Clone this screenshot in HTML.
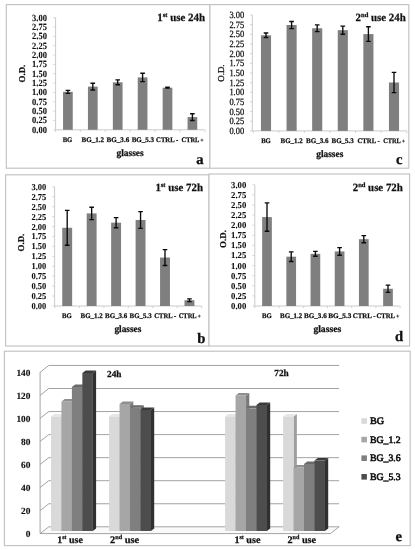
<!DOCTYPE html>
<html><head><meta charset="utf-8"><title>Figure</title>
<style>
html,body{margin:0;padding:0;background:#fff;}
body{width:415px;height:550px;overflow:hidden;font-family:"Liberation Serif",serif;}
svg{display:block;font-family:"Liberation Serif",serif;filter:grayscale(1);}
</style></head><body>
<svg text-rendering="geometricPrecision" width="415" height="550" viewBox="0 0 415 550">
<defs><filter id="soft" x="0" y="0" width="415" height="550" filterUnits="userSpaceOnUse" color-interpolation-filters="sRGB"><feConvolveMatrix order="3" kernelMatrix="0.03 0.1 0.03 0.1 0.48 0.1 0.03 0.1 0.03" divisor="1" edgeMode="duplicate" preserveAlpha="true"/></filter></defs>
<rect width="415" height="550" fill="#fff"/>
<rect x="6.3" y="4.6" width="203.6" height="163.6" fill="#fff" stroke="#c2c2c2" stroke-width="1.15"/>
<path d="M55.6 17.6 V129.8 H204.2" fill="none" stroke="#cacaca" stroke-width="1"/>
<path d="M53.4 129.80 H55.6" stroke="#cecece" stroke-width="0.9"/>
<path d="M53.4 120.45 H55.6" stroke="#cecece" stroke-width="0.9"/>
<path d="M53.4 111.10 H55.6" stroke="#cecece" stroke-width="0.9"/>
<path d="M53.4 101.75 H55.6" stroke="#cecece" stroke-width="0.9"/>
<path d="M53.4 92.40 H55.6" stroke="#cecece" stroke-width="0.9"/>
<path d="M53.4 83.05 H55.6" stroke="#cecece" stroke-width="0.9"/>
<path d="M53.4 73.70 H55.6" stroke="#cecece" stroke-width="0.9"/>
<path d="M53.4 64.35 H55.6" stroke="#cecece" stroke-width="0.9"/>
<path d="M53.4 55.00 H55.6" stroke="#cecece" stroke-width="0.9"/>
<path d="M53.4 45.65 H55.6" stroke="#cecece" stroke-width="0.9"/>
<path d="M53.4 36.30 H55.6" stroke="#cecece" stroke-width="0.9"/>
<path d="M53.4 26.95 H55.6" stroke="#cecece" stroke-width="0.9"/>
<path d="M53.4 17.60 H55.6" stroke="#cecece" stroke-width="0.9"/>
<path d="M55.45 129.8 v2.2" stroke="#cecece" stroke-width="0.9"/>
<path d="M80.35 129.8 v2.2" stroke="#cecece" stroke-width="0.9"/>
<path d="M105.25 129.8 v2.2" stroke="#cecece" stroke-width="0.9"/>
<path d="M130.15 129.8 v2.2" stroke="#cecece" stroke-width="0.9"/>
<path d="M155.05 129.8 v2.2" stroke="#cecece" stroke-width="0.9"/>
<path d="M179.95 129.8 v2.2" stroke="#cecece" stroke-width="0.9"/>
<path d="M204.85 129.8 v2.2" stroke="#cecece" stroke-width="0.9"/>
<rect x="63.05" y="91.80" width="9.7" height="38.00" fill="#7f7f7f"/>
<path d="M67.90 90.31 V93.30 M65.60 90.31 h4.6 M65.60 93.30 h4.6" stroke="#0a0a0a" stroke-width="1.35" fill="none"/>
<rect x="87.95" y="86.60" width="9.7" height="43.20" fill="#7f7f7f"/>
<path d="M92.80 83.24 V89.97 M90.50 83.24 h4.6 M90.50 89.97 h4.6" stroke="#0a0a0a" stroke-width="1.35" fill="none"/>
<rect x="112.85" y="82.30" width="9.7" height="47.50" fill="#7f7f7f"/>
<path d="M117.70 79.87 V84.73 M115.40 79.87 h4.6 M115.40 84.73 h4.6" stroke="#0a0a0a" stroke-width="1.35" fill="none"/>
<rect x="137.75" y="77.44" width="9.7" height="52.36" fill="#7f7f7f"/>
<path d="M142.60 73.25 V81.63 M140.30 73.25 h4.6 M140.30 81.63 h4.6" stroke="#0a0a0a" stroke-width="1.35" fill="none"/>
<rect x="162.65" y="87.73" width="9.7" height="42.08" fill="#7f7f7f"/>
<path d="M167.50 87.28 V88.17 M165.20 87.28 h4.6 M165.20 88.17 h4.6" stroke="#0a0a0a" stroke-width="1.35" fill="none"/>
<rect x="187.55" y="117.08" width="9.7" height="12.72" fill="#7f7f7f"/>
<path d="M192.40 113.72 V120.45 M190.10 113.72 h4.6 M190.10 120.45 h4.6" stroke="#0a0a0a" stroke-width="1.35" fill="none"/>
<rect x="209.9" y="4.6" width="198.9" height="163.6" fill="#fff" stroke="#c2c2c2" stroke-width="1.15"/>
<path d="M252.3 15.0 V130.9 H406.8" fill="none" stroke="#cacaca" stroke-width="1"/>
<path d="M250.10000000000002 130.90 H252.3" stroke="#cecece" stroke-width="0.9"/>
<path d="M250.10000000000002 121.24 H252.3" stroke="#cecece" stroke-width="0.9"/>
<path d="M250.10000000000002 111.58 H252.3" stroke="#cecece" stroke-width="0.9"/>
<path d="M250.10000000000002 101.93 H252.3" stroke="#cecece" stroke-width="0.9"/>
<path d="M250.10000000000002 92.27 H252.3" stroke="#cecece" stroke-width="0.9"/>
<path d="M250.10000000000002 82.61 H252.3" stroke="#cecece" stroke-width="0.9"/>
<path d="M250.10000000000002 72.95 H252.3" stroke="#cecece" stroke-width="0.9"/>
<path d="M250.10000000000002 63.29 H252.3" stroke="#cecece" stroke-width="0.9"/>
<path d="M250.10000000000002 53.63 H252.3" stroke="#cecece" stroke-width="0.9"/>
<path d="M250.10000000000002 43.98 H252.3" stroke="#cecece" stroke-width="0.9"/>
<path d="M250.10000000000002 34.32 H252.3" stroke="#cecece" stroke-width="0.9"/>
<path d="M250.10000000000002 24.66 H252.3" stroke="#cecece" stroke-width="0.9"/>
<path d="M250.10000000000002 15.00 H252.3" stroke="#cecece" stroke-width="0.9"/>
<path d="M253.20 130.9 v2.2" stroke="#cecece" stroke-width="0.9"/>
<path d="M278.80 130.9 v2.2" stroke="#cecece" stroke-width="0.9"/>
<path d="M304.40 130.9 v2.2" stroke="#cecece" stroke-width="0.9"/>
<path d="M330.00 130.9 v2.2" stroke="#cecece" stroke-width="0.9"/>
<path d="M355.60 130.9 v2.2" stroke="#cecece" stroke-width="0.9"/>
<path d="M381.20 130.9 v2.2" stroke="#cecece" stroke-width="0.9"/>
<path d="M406.80 130.9 v2.2" stroke="#cecece" stroke-width="0.9"/>
<rect x="260.95" y="35.28" width="10.1" height="95.62" fill="#7f7f7f"/>
<path d="M266.00 33.04 V37.52 M263.70 33.04 h4.6 M263.70 37.52 h4.6" stroke="#0a0a0a" stroke-width="1.35" fill="none"/>
<rect x="286.55" y="25.01" width="10.1" height="105.89" fill="#7f7f7f"/>
<path d="M291.60 21.45 V28.56 M289.30 21.45 h4.6 M289.30 28.56 h4.6" stroke="#0a0a0a" stroke-width="1.35" fill="none"/>
<rect x="312.15" y="28.29" width="10.1" height="102.61" fill="#7f7f7f"/>
<path d="M317.20 24.89 V31.69 M314.90 24.89 h4.6 M314.90 31.69 h4.6" stroke="#0a0a0a" stroke-width="1.35" fill="none"/>
<rect x="337.75" y="30.18" width="10.1" height="100.72" fill="#7f7f7f"/>
<path d="M342.80 26.13 V34.24 M340.50 26.13 h4.6 M340.50 34.24 h4.6" stroke="#0a0a0a" stroke-width="1.35" fill="none"/>
<rect x="363.35" y="34.08" width="10.1" height="96.82" fill="#7f7f7f"/>
<path d="M368.40 26.74 V41.43 M366.10 26.74 h4.6 M366.10 41.43 h4.6" stroke="#0a0a0a" stroke-width="1.35" fill="none"/>
<rect x="388.95" y="82.49" width="10.1" height="48.41" fill="#7f7f7f"/>
<path d="M394.00 72.33 V92.65 M391.70 72.33 h4.6 M391.70 92.65 h4.6" stroke="#0a0a0a" stroke-width="1.35" fill="none"/>
<rect x="5.6" y="174.8" width="203.4" height="171.2" fill="#fff" stroke="#c2c2c2" stroke-width="1.15"/>
<path d="M54.6 186.8 V306.0 H201.6" fill="none" stroke="#cacaca" stroke-width="1"/>
<path d="M52.4 306.00 H54.6" stroke="#cecece" stroke-width="0.9"/>
<path d="M52.4 296.07 H54.6" stroke="#cecece" stroke-width="0.9"/>
<path d="M52.4 286.13 H54.6" stroke="#cecece" stroke-width="0.9"/>
<path d="M52.4 276.20 H54.6" stroke="#cecece" stroke-width="0.9"/>
<path d="M52.4 266.27 H54.6" stroke="#cecece" stroke-width="0.9"/>
<path d="M52.4 256.33 H54.6" stroke="#cecece" stroke-width="0.9"/>
<path d="M52.4 246.40 H54.6" stroke="#cecece" stroke-width="0.9"/>
<path d="M52.4 236.47 H54.6" stroke="#cecece" stroke-width="0.9"/>
<path d="M52.4 226.53 H54.6" stroke="#cecece" stroke-width="0.9"/>
<path d="M52.4 216.60 H54.6" stroke="#cecece" stroke-width="0.9"/>
<path d="M52.4 206.67 H54.6" stroke="#cecece" stroke-width="0.9"/>
<path d="M52.4 196.73 H54.6" stroke="#cecece" stroke-width="0.9"/>
<path d="M52.4 186.80 H54.6" stroke="#cecece" stroke-width="0.9"/>
<path d="M54.98 306.0 v2.2" stroke="#cecece" stroke-width="0.9"/>
<path d="M79.42 306.0 v2.2" stroke="#cecece" stroke-width="0.9"/>
<path d="M103.88 306.0 v2.2" stroke="#cecece" stroke-width="0.9"/>
<path d="M128.32 306.0 v2.2" stroke="#cecece" stroke-width="0.9"/>
<path d="M152.78 306.0 v2.2" stroke="#cecece" stroke-width="0.9"/>
<path d="M177.22 306.0 v2.2" stroke="#cecece" stroke-width="0.9"/>
<path d="M201.67 306.0 v2.2" stroke="#cecece" stroke-width="0.9"/>
<rect x="62.25" y="227.80" width="9.9" height="78.20" fill="#7f7f7f"/>
<path d="M67.20 210.32 V245.29 M64.90 210.32 h4.6 M64.90 245.29 h4.6" stroke="#0a0a0a" stroke-width="1.35" fill="none"/>
<rect x="86.70" y="213.42" width="9.9" height="92.58" fill="#7f7f7f"/>
<path d="M91.65 207.26 V219.58 M89.35 207.26 h4.6 M89.35 219.58 h4.6" stroke="#0a0a0a" stroke-width="1.35" fill="none"/>
<rect x="111.15" y="222.68" width="9.9" height="83.32" fill="#7f7f7f"/>
<path d="M116.10 217.63 V227.73 M113.80 217.63 h4.6 M113.80 227.73 h4.6" stroke="#0a0a0a" stroke-width="1.35" fill="none"/>
<rect x="135.60" y="219.98" width="9.9" height="86.02" fill="#7f7f7f"/>
<path d="M140.55 211.63 V228.32 M138.25 211.63 h4.6 M138.25 228.32 h4.6" stroke="#0a0a0a" stroke-width="1.35" fill="none"/>
<rect x="160.05" y="257.53" width="9.9" height="48.47" fill="#7f7f7f"/>
<path d="M165.00 249.58 V265.47 M162.70 249.58 h4.6 M162.70 265.47 h4.6" stroke="#0a0a0a" stroke-width="1.35" fill="none"/>
<rect x="184.50" y="300.20" width="9.9" height="5.80" fill="#7f7f7f"/>
<path d="M189.45 298.81 V301.59 M187.15 298.81 h4.6 M187.15 301.59 h4.6" stroke="#0a0a0a" stroke-width="1.35" fill="none"/>
<rect x="209.0" y="174.0" width="200.60000000000002" height="172.0" fill="#fff" stroke="#c2c2c2" stroke-width="1.15"/>
<path d="M254.8 184.75 V306.0 H399.6" fill="none" stroke="#cacaca" stroke-width="1"/>
<path d="M252.60000000000002 306.00 H254.8" stroke="#cecece" stroke-width="0.9"/>
<path d="M252.60000000000002 295.90 H254.8" stroke="#cecece" stroke-width="0.9"/>
<path d="M252.60000000000002 285.79 H254.8" stroke="#cecece" stroke-width="0.9"/>
<path d="M252.60000000000002 275.69 H254.8" stroke="#cecece" stroke-width="0.9"/>
<path d="M252.60000000000002 265.58 H254.8" stroke="#cecece" stroke-width="0.9"/>
<path d="M252.60000000000002 255.48 H254.8" stroke="#cecece" stroke-width="0.9"/>
<path d="M252.60000000000002 245.38 H254.8" stroke="#cecece" stroke-width="0.9"/>
<path d="M252.60000000000002 235.27 H254.8" stroke="#cecece" stroke-width="0.9"/>
<path d="M252.60000000000002 225.17 H254.8" stroke="#cecece" stroke-width="0.9"/>
<path d="M252.60000000000002 215.06 H254.8" stroke="#cecece" stroke-width="0.9"/>
<path d="M252.60000000000002 204.96 H254.8" stroke="#cecece" stroke-width="0.9"/>
<path d="M252.60000000000002 194.85 H254.8" stroke="#cecece" stroke-width="0.9"/>
<path d="M252.60000000000002 184.75 H254.8" stroke="#cecece" stroke-width="0.9"/>
<path d="M254.90 306.0 v2.2" stroke="#cecece" stroke-width="0.9"/>
<path d="M279.10 306.0 v2.2" stroke="#cecece" stroke-width="0.9"/>
<path d="M303.30 306.0 v2.2" stroke="#cecece" stroke-width="0.9"/>
<path d="M327.50 306.0 v2.2" stroke="#cecece" stroke-width="0.9"/>
<path d="M351.70 306.0 v2.2" stroke="#cecece" stroke-width="0.9"/>
<path d="M375.90 306.0 v2.2" stroke="#cecece" stroke-width="0.9"/>
<path d="M400.10 306.0 v2.2" stroke="#cecece" stroke-width="0.9"/>
<rect x="262.15" y="217.08" width="9.7" height="88.92" fill="#7f7f7f"/>
<path d="M267.00 202.94 V231.23 M264.70 202.94 h4.6 M264.70 231.23 h4.6" stroke="#0a0a0a" stroke-width="1.35" fill="none"/>
<rect x="286.35" y="256.69" width="9.7" height="49.31" fill="#7f7f7f"/>
<path d="M291.20 251.84 V261.54 M288.90 251.84 h4.6 M288.90 261.54 h4.6" stroke="#0a0a0a" stroke-width="1.35" fill="none"/>
<rect x="310.55" y="253.86" width="9.7" height="52.14" fill="#7f7f7f"/>
<path d="M315.40 251.44 V256.29 M313.10 251.44 h4.6 M313.10 256.29 h4.6" stroke="#0a0a0a" stroke-width="1.35" fill="none"/>
<rect x="334.75" y="251.44" width="9.7" height="54.56" fill="#7f7f7f"/>
<path d="M339.60 247.60 V255.28 M337.30 247.60 h4.6 M337.30 255.28 h4.6" stroke="#0a0a0a" stroke-width="1.35" fill="none"/>
<rect x="358.95" y="239.19" width="9.7" height="66.81" fill="#7f7f7f"/>
<path d="M363.80 235.68 V242.71 M361.50 235.68 h4.6 M361.50 242.71 h4.6" stroke="#0a0a0a" stroke-width="1.35" fill="none"/>
<rect x="383.15" y="288.78" width="9.7" height="17.22" fill="#7f7f7f"/>
<path d="M388.00 285.14 V292.42 M385.70 285.14 h4.6 M385.70 292.42 h4.6" stroke="#0a0a0a" stroke-width="1.35" fill="none"/>
<rect x="4.4" y="351.2" width="405.8" height="194.4" fill="#fff" stroke="#c2c2c2" stroke-width="1.15"/>
<path d="M40.1 533.6 L48.8 526.8000000000001 H339.1 L330.40000000000003 533.6 Z" fill="#fafafa" stroke="#989898" stroke-width="0.9"/>
<path d="M40.1 510.55 L48.8 503.75 H339.1" fill="none" stroke="#989898" stroke-width="0.9"/>
<path d="M40.1 487.50 L48.8 480.70 H339.1" fill="none" stroke="#989898" stroke-width="0.9"/>
<path d="M40.1 464.45 L48.8 457.65 H339.1" fill="none" stroke="#989898" stroke-width="0.9"/>
<path d="M40.1 441.40 L48.8 434.60 H339.1" fill="none" stroke="#989898" stroke-width="0.9"/>
<path d="M40.1 418.35 L48.8 411.55 H339.1" fill="none" stroke="#989898" stroke-width="0.9"/>
<path d="M40.1 395.30 L48.8 388.50 H339.1" fill="none" stroke="#989898" stroke-width="0.9"/>
<path d="M40.1 372.25 L48.8 365.45 H339.1" fill="none" stroke="#989898" stroke-width="0.9"/>
<path d="M40.1 533.6 V372.25" stroke="#989898" stroke-width="0.9"/>
<path d="M61.45 531.0 L64.75 528.5 V414.00 L61.45 416.50 Z" fill="#9e9e9e"/>
<path d="M51.00 416.50 L54.30 414.00 H64.75 L61.45 416.50 Z" fill="#e6e6e6"/>
<rect x="51.00" y="416.50" width="10.549999999999999" height="114.50" fill="#d9d9d9"/>
<path d="M71.90 531.0 L75.20 528.5 V398.89 L71.90 401.39 Z" fill="#7a7a7a"/>
<path d="M61.45 401.39 L64.75 398.89 H75.20 L71.90 401.39 Z" fill="#8e8e8e"/>
<rect x="61.45" y="401.39" width="10.549999999999999" height="129.61" fill="#a6a6a6"/>
<path d="M82.35 531.0 L85.65 528.5 V384.46 L82.35 386.96 Z" fill="#5a5a5a"/>
<path d="M71.90 386.96 L75.20 384.46 H85.65 L82.35 386.96 Z" fill="#6a6a6a"/>
<rect x="71.90" y="386.96" width="10.549999999999999" height="144.04" fill="#7f7f7f"/>
<path d="M92.80 531.0 L96.10 528.5 V370.49 L92.80 372.99 Z" fill="#303030"/>
<path d="M82.35 372.99 L85.65 370.49 H96.10 L92.80 372.99 Z" fill="#3a3a3a"/>
<rect x="82.35" y="372.99" width="10.549999999999999" height="158.01" fill="#4d4d4d"/>
<path d="M119.55 531.0 L122.85 528.5 V414.00 L119.55 416.50 Z" fill="#9e9e9e"/>
<path d="M109.10 416.50 L112.40 414.00 H122.85 L119.55 416.50 Z" fill="#e6e6e6"/>
<rect x="109.10" y="416.50" width="10.549999999999999" height="114.50" fill="#d9d9d9"/>
<path d="M130.00 531.0 L133.30 528.5 V401.40 L130.00 403.90 Z" fill="#7a7a7a"/>
<path d="M119.55 403.90 L122.85 401.40 H133.30 L130.00 403.90 Z" fill="#8e8e8e"/>
<rect x="119.55" y="403.90" width="10.549999999999999" height="127.10" fill="#a6a6a6"/>
<path d="M140.45 531.0 L143.75 528.5 V405.18 L140.45 407.68 Z" fill="#5a5a5a"/>
<path d="M130.00 407.68 L133.30 405.18 H143.75 L140.45 407.68 Z" fill="#6a6a6a"/>
<rect x="130.00" y="407.68" width="10.549999999999999" height="123.32" fill="#7f7f7f"/>
<path d="M150.90 531.0 L154.20 528.5 V407.47 L150.90 409.97 Z" fill="#303030"/>
<path d="M140.45 409.97 L143.75 407.47 H154.20 L150.90 409.97 Z" fill="#3a3a3a"/>
<rect x="140.45" y="409.97" width="10.549999999999999" height="121.03" fill="#4d4d4d"/>
<path d="M235.55 531.0 L238.85 528.5 V414.00 L235.55 416.50 Z" fill="#9e9e9e"/>
<path d="M225.10 416.50 L228.40 414.00 H238.85 L235.55 416.50 Z" fill="#e6e6e6"/>
<rect x="225.10" y="416.50" width="10.549999999999999" height="114.50" fill="#d9d9d9"/>
<path d="M246.00 531.0 L249.30 528.5 V392.93 L246.00 395.43 Z" fill="#7a7a7a"/>
<path d="M235.55 395.43 L238.85 392.93 H249.30 L246.00 395.43 Z" fill="#8e8e8e"/>
<rect x="235.55" y="395.43" width="10.549999999999999" height="135.57" fill="#a6a6a6"/>
<path d="M256.45 531.0 L259.75 528.5 V405.87 L256.45 408.37 Z" fill="#5a5a5a"/>
<path d="M246.00 408.37 L249.30 405.87 H259.75 L256.45 408.37 Z" fill="#6a6a6a"/>
<rect x="246.00" y="408.37" width="10.549999999999999" height="122.63" fill="#7f7f7f"/>
<path d="M266.90 531.0 L270.20 528.5 V402.44 L266.90 404.94 Z" fill="#303030"/>
<path d="M256.45 404.94 L259.75 402.44 H270.20 L266.90 404.94 Z" fill="#3a3a3a"/>
<rect x="256.45" y="404.94" width="10.549999999999999" height="126.06" fill="#4d4d4d"/>
<path d="M293.55 531.0 L296.85 528.5 V414.00 L293.55 416.50 Z" fill="#9e9e9e"/>
<path d="M283.10 416.50 L286.40 414.00 H296.85 L293.55 416.50 Z" fill="#e6e6e6"/>
<rect x="283.10" y="416.50" width="10.549999999999999" height="114.50" fill="#d9d9d9"/>
<path d="M304.00 531.0 L307.30 528.5 V464.95 L304.00 467.45 Z" fill="#7a7a7a"/>
<path d="M293.55 467.45 L296.85 464.95 H307.30 L304.00 467.45 Z" fill="#8e8e8e"/>
<rect x="293.55" y="467.45" width="10.549999999999999" height="63.55" fill="#a6a6a6"/>
<path d="M314.45 531.0 L317.75 528.5 V461.52 L314.45 464.02 Z" fill="#5a5a5a"/>
<path d="M304.00 464.02 L307.30 461.52 H317.75 L314.45 464.02 Z" fill="#6a6a6a"/>
<rect x="304.00" y="464.02" width="10.549999999999999" height="66.98" fill="#7f7f7f"/>
<path d="M324.90 531.0 L328.20 528.5 V458.08 L324.90 460.58 Z" fill="#303030"/>
<path d="M314.45 460.58 L317.75 458.08 H328.20 L324.90 460.58 Z" fill="#3a3a3a"/>
<rect x="314.45" y="460.58" width="10.549999999999999" height="70.42" fill="#4d4d4d"/>
<rect x="361.4" y="418.20" width="5.5" height="5.6" fill="#d9d9d9"/>
<rect x="361.4" y="436.80" width="5.5" height="5.6" fill="#a6a6a6"/>
<rect x="361.4" y="455.40" width="5.5" height="5.6" fill="#7f7f7f"/>
<rect x="361.4" y="474.00" width="5.5" height="5.6" fill="#4d4d4d"/>
<g filter="url(#soft)">
<text x="46.9" y="132.80" font-size="9.4" font-weight="bold" text-anchor="end" fill="#111" textLength="14.8" lengthAdjust="spacingAndGlyphs"  stroke="#111" stroke-width="0.08">0.00</text>
<text x="46.9" y="123.45" font-size="9.4" font-weight="bold" text-anchor="end" fill="#111" textLength="14.8" lengthAdjust="spacingAndGlyphs"  stroke="#111" stroke-width="0.08">0.25</text>
<text x="46.9" y="114.10" font-size="9.4" font-weight="bold" text-anchor="end" fill="#111" textLength="14.8" lengthAdjust="spacingAndGlyphs"  stroke="#111" stroke-width="0.08">0.50</text>
<text x="46.9" y="104.75" font-size="9.4" font-weight="bold" text-anchor="end" fill="#111" textLength="14.8" lengthAdjust="spacingAndGlyphs"  stroke="#111" stroke-width="0.08">0.75</text>
<text x="46.9" y="95.40" font-size="9.4" font-weight="bold" text-anchor="end" fill="#111" textLength="14.8" lengthAdjust="spacingAndGlyphs"  stroke="#111" stroke-width="0.08">1.00</text>
<text x="46.9" y="86.05" font-size="9.4" font-weight="bold" text-anchor="end" fill="#111" textLength="14.8" lengthAdjust="spacingAndGlyphs"  stroke="#111" stroke-width="0.08">1.25</text>
<text x="46.9" y="76.70" font-size="9.4" font-weight="bold" text-anchor="end" fill="#111" textLength="14.8" lengthAdjust="spacingAndGlyphs"  stroke="#111" stroke-width="0.08">1.50</text>
<text x="46.9" y="67.35" font-size="9.4" font-weight="bold" text-anchor="end" fill="#111" textLength="14.8" lengthAdjust="spacingAndGlyphs"  stroke="#111" stroke-width="0.08">1.75</text>
<text x="46.9" y="58.00" font-size="9.4" font-weight="bold" text-anchor="end" fill="#111" textLength="14.8" lengthAdjust="spacingAndGlyphs"  stroke="#111" stroke-width="0.08">2.00</text>
<text x="46.9" y="48.65" font-size="9.4" font-weight="bold" text-anchor="end" fill="#111" textLength="14.8" lengthAdjust="spacingAndGlyphs"  stroke="#111" stroke-width="0.08">2.25</text>
<text x="46.9" y="39.30" font-size="9.4" font-weight="bold" text-anchor="end" fill="#111" textLength="14.8" lengthAdjust="spacingAndGlyphs"  stroke="#111" stroke-width="0.08">2.50</text>
<text x="46.9" y="29.95" font-size="9.4" font-weight="bold" text-anchor="end" fill="#111" textLength="14.8" lengthAdjust="spacingAndGlyphs"  stroke="#111" stroke-width="0.08">2.75</text>
<text x="46.9" y="20.60" font-size="9.4" font-weight="bold" text-anchor="end" fill="#111" textLength="14.8" lengthAdjust="spacingAndGlyphs"  stroke="#111" stroke-width="0.08">3.00</text>
<text x="67.50" y="141.9" font-size="7.0" font-weight="bold" text-anchor="middle" fill="#111" textLength="9.6" lengthAdjust="spacingAndGlyphs"  stroke="#111" stroke-width="0.25">BG</text>
<text x="92.85" y="141.9" font-size="7.0" font-weight="bold" text-anchor="middle" fill="#111" textLength="22.5" lengthAdjust="spacingAndGlyphs"  stroke="#111" stroke-width="0.25">BG_1.2</text>
<text x="117.90" y="141.9" font-size="7.0" font-weight="bold" text-anchor="middle" fill="#111" textLength="22.6" lengthAdjust="spacingAndGlyphs"  stroke="#111" stroke-width="0.25">BG_3.6</text>
<text x="142.90" y="141.9" font-size="7.0" font-weight="bold" text-anchor="middle" fill="#111" textLength="22.4" lengthAdjust="spacingAndGlyphs"  stroke="#111" stroke-width="0.25">BG_5.3</text>
<text x="167.15" y="141.9" font-size="7.0" font-weight="bold" text-anchor="middle" fill="#111" textLength="22.1" lengthAdjust="spacingAndGlyphs"  stroke="#111" stroke-width="0.25">CTRL -</text>
<text x="192.50" y="141.9" font-size="7.0" font-weight="bold" text-anchor="middle" fill="#111" textLength="22.0" lengthAdjust="spacingAndGlyphs"  stroke="#111" stroke-width="0.25">CTRL <tspan font-size="5.6" dy="-0.3">+</tspan></text>
<text x="130.10" y="156" font-size="9.6" font-weight="bold" text-anchor="middle" fill="#111" textLength="27.2" lengthAdjust="spacingAndGlyphs"  stroke="#111" stroke-width="0.25">glasses</text>
<text x="199.85" y="163.5" font-size="14.6" font-weight="bold" text-anchor="middle" fill="#111"  stroke="#111" stroke-width="0.3">a</text>
<text x="157.3" y="20.8" font-size="11" font-weight="bold" text-anchor="start" fill="#111" textLength="47.8" lengthAdjust="spacingAndGlyphs"  stroke="#111" stroke-width="0.25">1<tspan font-size="6.6" dy="-4">st</tspan><tspan dy="4"> use 24h</tspan></text>
<text transform="translate(24.6 73.6) rotate(-90)" font-size="9" font-weight="bold" text-anchor="middle" fill="#111" textLength="17.8" lengthAdjust="spacingAndGlyphs" stroke="#111" stroke-width="0.25">O.D.</text>
<text x="244.2" y="134.00" font-size="9.6" font-weight="normal" text-anchor="end" fill="#111" textLength="14.8" lengthAdjust="spacingAndGlyphs"  stroke="#111" stroke-width="0.25">0.00</text>
<text x="244.2" y="124.34" font-size="9.6" font-weight="normal" text-anchor="end" fill="#111" textLength="14.8" lengthAdjust="spacingAndGlyphs"  stroke="#111" stroke-width="0.25">0.25</text>
<text x="244.2" y="114.68" font-size="9.6" font-weight="normal" text-anchor="end" fill="#111" textLength="14.8" lengthAdjust="spacingAndGlyphs"  stroke="#111" stroke-width="0.25">0.50</text>
<text x="244.2" y="105.03" font-size="9.6" font-weight="normal" text-anchor="end" fill="#111" textLength="14.8" lengthAdjust="spacingAndGlyphs"  stroke="#111" stroke-width="0.25">0.75</text>
<text x="244.2" y="95.37" font-size="9.6" font-weight="normal" text-anchor="end" fill="#111" textLength="14.8" lengthAdjust="spacingAndGlyphs"  stroke="#111" stroke-width="0.25">1.00</text>
<text x="244.2" y="85.71" font-size="9.6" font-weight="normal" text-anchor="end" fill="#111" textLength="14.8" lengthAdjust="spacingAndGlyphs"  stroke="#111" stroke-width="0.25">1.25</text>
<text x="244.2" y="76.05" font-size="9.6" font-weight="normal" text-anchor="end" fill="#111" textLength="14.8" lengthAdjust="spacingAndGlyphs"  stroke="#111" stroke-width="0.25">1.50</text>
<text x="244.2" y="66.39" font-size="9.6" font-weight="normal" text-anchor="end" fill="#111" textLength="14.8" lengthAdjust="spacingAndGlyphs"  stroke="#111" stroke-width="0.25">1.75</text>
<text x="244.2" y="56.73" font-size="9.6" font-weight="normal" text-anchor="end" fill="#111" textLength="14.8" lengthAdjust="spacingAndGlyphs"  stroke="#111" stroke-width="0.25">2.00</text>
<text x="244.2" y="47.08" font-size="9.6" font-weight="normal" text-anchor="end" fill="#111" textLength="14.8" lengthAdjust="spacingAndGlyphs"  stroke="#111" stroke-width="0.25">2.25</text>
<text x="244.2" y="37.42" font-size="9.6" font-weight="normal" text-anchor="end" fill="#111" textLength="14.8" lengthAdjust="spacingAndGlyphs"  stroke="#111" stroke-width="0.25">2.50</text>
<text x="244.2" y="27.76" font-size="9.6" font-weight="normal" text-anchor="end" fill="#111" textLength="14.8" lengthAdjust="spacingAndGlyphs"  stroke="#111" stroke-width="0.25">2.75</text>
<text x="244.2" y="18.10" font-size="9.6" font-weight="normal" text-anchor="end" fill="#111" textLength="14.8" lengthAdjust="spacingAndGlyphs"  stroke="#111" stroke-width="0.25">3.00</text>
<text x="266.00" y="143.2" font-size="7.0" font-weight="bold" text-anchor="middle" fill="#111" textLength="9.6" lengthAdjust="spacingAndGlyphs"  stroke="#111" stroke-width="0.25">BG</text>
<text x="291.60" y="143.2" font-size="7.0" font-weight="bold" text-anchor="middle" fill="#111" textLength="22.0" lengthAdjust="spacingAndGlyphs"  stroke="#111" stroke-width="0.25">BG_1.2</text>
<text x="317.35" y="143.2" font-size="7.0" font-weight="bold" text-anchor="middle" fill="#111" textLength="22.5" lengthAdjust="spacingAndGlyphs"  stroke="#111" stroke-width="0.25">BG_3.6</text>
<text x="342.60" y="143.2" font-size="7.0" font-weight="bold" text-anchor="middle" fill="#111" textLength="22.2" lengthAdjust="spacingAndGlyphs"  stroke="#111" stroke-width="0.25">BG_5.3</text>
<text x="368.60" y="143.2" font-size="7.0" font-weight="bold" text-anchor="middle" fill="#111" textLength="22.2" lengthAdjust="spacingAndGlyphs"  stroke="#111" stroke-width="0.25">CTRL -</text>
<text x="394.00" y="143.2" font-size="7.0" font-weight="bold" text-anchor="middle" fill="#111" textLength="21.6" lengthAdjust="spacingAndGlyphs"  stroke="#111" stroke-width="0.25">CTRL <tspan font-size="5.6" dy="-0.3">+</tspan></text>
<text x="329.80" y="157" font-size="9.6" font-weight="bold" text-anchor="middle" fill="#111" textLength="27.0" lengthAdjust="spacingAndGlyphs"  stroke="#111" stroke-width="0.25">glasses</text>
<text x="399.30" y="163.8" font-size="14.6" font-weight="bold" text-anchor="middle" fill="#111"  stroke="#111" stroke-width="0.3">c</text>
<text x="355.6" y="20.8" font-size="11" font-weight="bold" text-anchor="start" fill="#111" textLength="50.1" lengthAdjust="spacingAndGlyphs"  stroke="#111" stroke-width="0.25">2<tspan font-size="6.6" dy="-4">nd</tspan><tspan dy="4"> use 24h</tspan></text>
<text transform="translate(224.3 73.1) rotate(-90)" font-size="9" font-weight="normal" text-anchor="middle" fill="#111" textLength="17.3" lengthAdjust="spacingAndGlyphs" stroke="#111" stroke-width="0.3">O.D.</text>
<text x="46.3" y="309.00" font-size="9.0" font-weight="bold" text-anchor="end" fill="#111" textLength="14.8" lengthAdjust="spacingAndGlyphs"  stroke="#111" stroke-width="0.08">0.00</text>
<text x="46.3" y="299.07" font-size="9.0" font-weight="bold" text-anchor="end" fill="#111" textLength="14.8" lengthAdjust="spacingAndGlyphs"  stroke="#111" stroke-width="0.08">0.25</text>
<text x="46.3" y="289.13" font-size="9.0" font-weight="bold" text-anchor="end" fill="#111" textLength="14.8" lengthAdjust="spacingAndGlyphs"  stroke="#111" stroke-width="0.08">0.50</text>
<text x="46.3" y="279.20" font-size="9.0" font-weight="bold" text-anchor="end" fill="#111" textLength="14.8" lengthAdjust="spacingAndGlyphs"  stroke="#111" stroke-width="0.08">0.75</text>
<text x="46.3" y="269.27" font-size="9.0" font-weight="bold" text-anchor="end" fill="#111" textLength="14.8" lengthAdjust="spacingAndGlyphs"  stroke="#111" stroke-width="0.08">1.00</text>
<text x="46.3" y="259.33" font-size="9.0" font-weight="bold" text-anchor="end" fill="#111" textLength="14.8" lengthAdjust="spacingAndGlyphs"  stroke="#111" stroke-width="0.08">1.25</text>
<text x="46.3" y="249.40" font-size="9.0" font-weight="bold" text-anchor="end" fill="#111" textLength="14.8" lengthAdjust="spacingAndGlyphs"  stroke="#111" stroke-width="0.08">1.50</text>
<text x="46.3" y="239.47" font-size="9.0" font-weight="bold" text-anchor="end" fill="#111" textLength="14.8" lengthAdjust="spacingAndGlyphs"  stroke="#111" stroke-width="0.08">1.75</text>
<text x="46.3" y="229.53" font-size="9.0" font-weight="bold" text-anchor="end" fill="#111" textLength="14.8" lengthAdjust="spacingAndGlyphs"  stroke="#111" stroke-width="0.08">2.00</text>
<text x="46.3" y="219.60" font-size="9.0" font-weight="bold" text-anchor="end" fill="#111" textLength="14.8" lengthAdjust="spacingAndGlyphs"  stroke="#111" stroke-width="0.08">2.25</text>
<text x="46.3" y="209.67" font-size="9.0" font-weight="bold" text-anchor="end" fill="#111" textLength="14.8" lengthAdjust="spacingAndGlyphs"  stroke="#111" stroke-width="0.08">2.50</text>
<text x="46.3" y="199.73" font-size="9.0" font-weight="bold" text-anchor="end" fill="#111" textLength="14.8" lengthAdjust="spacingAndGlyphs"  stroke="#111" stroke-width="0.08">2.75</text>
<text x="46.3" y="189.80" font-size="9.0" font-weight="bold" text-anchor="end" fill="#111" textLength="14.8" lengthAdjust="spacingAndGlyphs"  stroke="#111" stroke-width="0.08">3.00</text>
<text x="66.95" y="318.0" font-size="7.0" font-weight="bold" text-anchor="middle" fill="#111" textLength="9.7" lengthAdjust="spacingAndGlyphs"  stroke="#111" stroke-width="0.25">BG</text>
<text x="91.60" y="318.0" font-size="7.0" font-weight="bold" text-anchor="middle" fill="#111" textLength="22.0" lengthAdjust="spacingAndGlyphs"  stroke="#111" stroke-width="0.25">BG_1.2</text>
<text x="116.20" y="318.0" font-size="7.0" font-weight="bold" text-anchor="middle" fill="#111" textLength="22.2" lengthAdjust="spacingAndGlyphs"  stroke="#111" stroke-width="0.25">BG_3.6</text>
<text x="140.60" y="318.0" font-size="7.0" font-weight="bold" text-anchor="middle" fill="#111" textLength="22.0" lengthAdjust="spacingAndGlyphs"  stroke="#111" stroke-width="0.25">BG_5.3</text>
<text x="165.25" y="318.0" font-size="7.0" font-weight="bold" text-anchor="middle" fill="#111" textLength="21.9" lengthAdjust="spacingAndGlyphs"  stroke="#111" stroke-width="0.25">CTRL -</text>
<text x="189.75" y="318.0" font-size="7.0" font-weight="bold" text-anchor="middle" fill="#111" textLength="22.1" lengthAdjust="spacingAndGlyphs"  stroke="#111" stroke-width="0.25">CTRL <tspan font-size="5.6" dy="-0.3">+</tspan></text>
<text x="127.90" y="331.6" font-size="9.6" font-weight="bold" text-anchor="middle" fill="#111" textLength="27.0" lengthAdjust="spacingAndGlyphs"  stroke="#111" stroke-width="0.25">glasses</text>
<text x="201.25" y="342.6" font-size="14.6" font-weight="bold" text-anchor="middle" fill="#111"  stroke="#111" stroke-width="0.3">b</text>
<text x="155.4" y="190.7" font-size="11" font-weight="bold" text-anchor="start" fill="#111" textLength="47.6" lengthAdjust="spacingAndGlyphs"  stroke="#111" stroke-width="0.25">1<tspan font-size="6.6" dy="-4">st</tspan><tspan dy="4"> use 72h</tspan></text>
<text transform="translate(23.8 242.6) rotate(-90)" font-size="9" font-weight="bold" text-anchor="middle" fill="#111" textLength="17.8" lengthAdjust="spacingAndGlyphs" stroke="#111" stroke-width="0.25">O.D.</text>
<text x="246.3" y="309.00" font-size="9.0" font-weight="bold" text-anchor="end" fill="#111" textLength="15.2" lengthAdjust="spacingAndGlyphs"  stroke="#111" stroke-width="0.08">0.00</text>
<text x="246.3" y="298.90" font-size="9.0" font-weight="bold" text-anchor="end" fill="#111" textLength="15.2" lengthAdjust="spacingAndGlyphs"  stroke="#111" stroke-width="0.08">0.25</text>
<text x="246.3" y="288.79" font-size="9.0" font-weight="bold" text-anchor="end" fill="#111" textLength="15.2" lengthAdjust="spacingAndGlyphs"  stroke="#111" stroke-width="0.08">0.50</text>
<text x="246.3" y="278.69" font-size="9.0" font-weight="bold" text-anchor="end" fill="#111" textLength="15.2" lengthAdjust="spacingAndGlyphs"  stroke="#111" stroke-width="0.08">0.75</text>
<text x="246.3" y="268.58" font-size="9.0" font-weight="bold" text-anchor="end" fill="#111" textLength="15.2" lengthAdjust="spacingAndGlyphs"  stroke="#111" stroke-width="0.08">1.00</text>
<text x="246.3" y="258.48" font-size="9.0" font-weight="bold" text-anchor="end" fill="#111" textLength="15.2" lengthAdjust="spacingAndGlyphs"  stroke="#111" stroke-width="0.08">1.25</text>
<text x="246.3" y="248.38" font-size="9.0" font-weight="bold" text-anchor="end" fill="#111" textLength="15.2" lengthAdjust="spacingAndGlyphs"  stroke="#111" stroke-width="0.08">1.50</text>
<text x="246.3" y="238.27" font-size="9.0" font-weight="bold" text-anchor="end" fill="#111" textLength="15.2" lengthAdjust="spacingAndGlyphs"  stroke="#111" stroke-width="0.08">1.75</text>
<text x="246.3" y="228.17" font-size="9.0" font-weight="bold" text-anchor="end" fill="#111" textLength="15.2" lengthAdjust="spacingAndGlyphs"  stroke="#111" stroke-width="0.08">2.00</text>
<text x="246.3" y="218.06" font-size="9.0" font-weight="bold" text-anchor="end" fill="#111" textLength="15.2" lengthAdjust="spacingAndGlyphs"  stroke="#111" stroke-width="0.08">2.25</text>
<text x="246.3" y="207.96" font-size="9.0" font-weight="bold" text-anchor="end" fill="#111" textLength="15.2" lengthAdjust="spacingAndGlyphs"  stroke="#111" stroke-width="0.08">2.50</text>
<text x="246.3" y="197.85" font-size="9.0" font-weight="bold" text-anchor="end" fill="#111" textLength="15.2" lengthAdjust="spacingAndGlyphs"  stroke="#111" stroke-width="0.08">2.75</text>
<text x="246.3" y="187.75" font-size="9.0" font-weight="bold" text-anchor="end" fill="#111" textLength="15.2" lengthAdjust="spacingAndGlyphs"  stroke="#111" stroke-width="0.08">3.00</text>
<text x="266.95" y="317.8" font-size="7.0" font-weight="bold" text-anchor="middle" fill="#111" textLength="9.7" lengthAdjust="spacingAndGlyphs"  stroke="#111" stroke-width="0.25">BG</text>
<text x="291.10" y="317.8" font-size="7.0" font-weight="bold" text-anchor="middle" fill="#111" textLength="22.2" lengthAdjust="spacingAndGlyphs"  stroke="#111" stroke-width="0.25">BG_1.2</text>
<text x="315.40" y="317.8" font-size="7.0" font-weight="bold" text-anchor="middle" fill="#111" textLength="22.6" lengthAdjust="spacingAndGlyphs"  stroke="#111" stroke-width="0.25">BG_3.6</text>
<text x="339.80" y="317.8" font-size="7.0" font-weight="bold" text-anchor="middle" fill="#111" textLength="23.2" lengthAdjust="spacingAndGlyphs"  stroke="#111" stroke-width="0.25">BG_5.3</text>
<text x="364.10" y="317.8" font-size="7.0" font-weight="bold" text-anchor="middle" fill="#111" textLength="22.8" lengthAdjust="spacingAndGlyphs"  stroke="#111" stroke-width="0.25">CTRL -</text>
<text x="387.80" y="317.8" font-size="7.0" font-weight="bold" text-anchor="middle" fill="#111" textLength="22.8" lengthAdjust="spacingAndGlyphs"  stroke="#111" stroke-width="0.25">CTRL <tspan font-size="5.6" dy="-0.3">+</tspan></text>
<text x="327.30" y="332" font-size="9.6" font-weight="bold" text-anchor="middle" fill="#111" textLength="27.8" lengthAdjust="spacingAndGlyphs"  stroke="#111" stroke-width="0.25">glasses</text>
<text x="398.95" y="341" font-size="14.6" font-weight="bold" text-anchor="middle" fill="#111"  stroke="#111" stroke-width="0.3">d</text>
<text x="352.7" y="190.8" font-size="11" font-weight="bold" text-anchor="start" fill="#111" textLength="50.1" lengthAdjust="spacingAndGlyphs"  stroke="#111" stroke-width="0.25">2<tspan font-size="6.6" dy="-4">nd</tspan><tspan dy="4"> use 72h</tspan></text>
<text transform="translate(226.3 239) rotate(-90)" font-size="9" font-weight="bold" text-anchor="middle" fill="#111" textLength="17.8" lengthAdjust="spacingAndGlyphs" stroke="#111" stroke-width="0.25">O.D.</text>
<text x="30.4" y="537.20" font-size="9.5" font-weight="bold" text-anchor="end" fill="#111" textLength="4.7" lengthAdjust="spacingAndGlyphs"  stroke="#111" stroke-width="0.12">0</text>
<text x="30.4" y="514.15" font-size="9.5" font-weight="bold" text-anchor="end" fill="#111" textLength="9.4" lengthAdjust="spacingAndGlyphs"  stroke="#111" stroke-width="0.12">20</text>
<text x="30.4" y="491.10" font-size="9.5" font-weight="bold" text-anchor="end" fill="#111" textLength="9.4" lengthAdjust="spacingAndGlyphs"  stroke="#111" stroke-width="0.12">40</text>
<text x="30.4" y="468.05" font-size="9.5" font-weight="bold" text-anchor="end" fill="#111" textLength="9.4" lengthAdjust="spacingAndGlyphs"  stroke="#111" stroke-width="0.12">60</text>
<text x="30.4" y="445.00" font-size="9.5" font-weight="bold" text-anchor="end" fill="#111" textLength="9.4" lengthAdjust="spacingAndGlyphs"  stroke="#111" stroke-width="0.12">80</text>
<text x="30.4" y="421.95" font-size="9.5" font-weight="bold" text-anchor="end" fill="#111" textLength="14" lengthAdjust="spacingAndGlyphs"  stroke="#111" stroke-width="0.12">100</text>
<text x="30.4" y="398.90" font-size="9.5" font-weight="bold" text-anchor="end" fill="#111" textLength="14" lengthAdjust="spacingAndGlyphs"  stroke="#111" stroke-width="0.12">120</text>
<text x="30.4" y="375.85" font-size="9.5" font-weight="bold" text-anchor="end" fill="#111" textLength="14" lengthAdjust="spacingAndGlyphs"  stroke="#111" stroke-width="0.12">140</text>
<text x="57.3" y="542.6" font-size="10" font-weight="bold" text-anchor="start" fill="#111" textLength="25.5" lengthAdjust="spacingAndGlyphs"  stroke="#111" stroke-width="0.25">1<tspan font-size="6" dy="-3.4">st</tspan><tspan dy="3.4"> use</tspan></text>
<text x="110" y="542.6" font-size="10" font-weight="bold" text-anchor="start" fill="#111" textLength="29.1" lengthAdjust="spacingAndGlyphs"  stroke="#111" stroke-width="0.25">2<tspan font-size="6" dy="-3.4">nd</tspan><tspan dy="3.4"> use</tspan></text>
<text x="234.4" y="542.6" font-size="10" font-weight="bold" text-anchor="start" fill="#111" textLength="26.0" lengthAdjust="spacingAndGlyphs"  stroke="#111" stroke-width="0.25">1<tspan font-size="6" dy="-3.4">st</tspan><tspan dy="3.4"> use</tspan></text>
<text x="287.5" y="542.6" font-size="10" font-weight="bold" text-anchor="start" fill="#111" textLength="28.5" lengthAdjust="spacingAndGlyphs"  stroke="#111" stroke-width="0.25">2<tspan font-size="6" dy="-3.4">nd</tspan><tspan dy="3.4"> use</tspan></text>
<text x="107" y="377.3" font-size="9.3" font-weight="bold" text-anchor="start" fill="#111" textLength="14.4" lengthAdjust="spacingAndGlyphs"  stroke="#111" stroke-width="0.25">24h</text>
<text x="274.3" y="375.9" font-size="9.3" font-weight="bold" text-anchor="start" fill="#111" textLength="14.4" lengthAdjust="spacingAndGlyphs"  stroke="#111" stroke-width="0.25">72h</text>
<text x="370" y="424.00" font-size="9.9" font-weight="normal" text-anchor="start" fill="#111" textLength="14.1" lengthAdjust="spacingAndGlyphs"  stroke="#111" stroke-width="0.62">BG</text>
<text x="370" y="442.60" font-size="9.9" font-weight="normal" text-anchor="start" fill="#111" textLength="30.7" lengthAdjust="spacingAndGlyphs"  stroke="#111" stroke-width="0.62">BG_1.2</text>
<text x="370" y="461.20" font-size="9.9" font-weight="normal" text-anchor="start" fill="#111" textLength="30.7" lengthAdjust="spacingAndGlyphs"  stroke="#111" stroke-width="0.62">BG_3.6</text>
<text x="370" y="479.80" font-size="9.9" font-weight="normal" text-anchor="start" fill="#111" textLength="30.7" lengthAdjust="spacingAndGlyphs"  stroke="#111" stroke-width="0.62">BG_5.3</text>
<text x="398.7" y="541.0" font-size="14.6" font-weight="bold" text-anchor="middle" fill="#111"  stroke="#111" stroke-width="0.3">e</text>
</g>
</svg>
</body></html>
